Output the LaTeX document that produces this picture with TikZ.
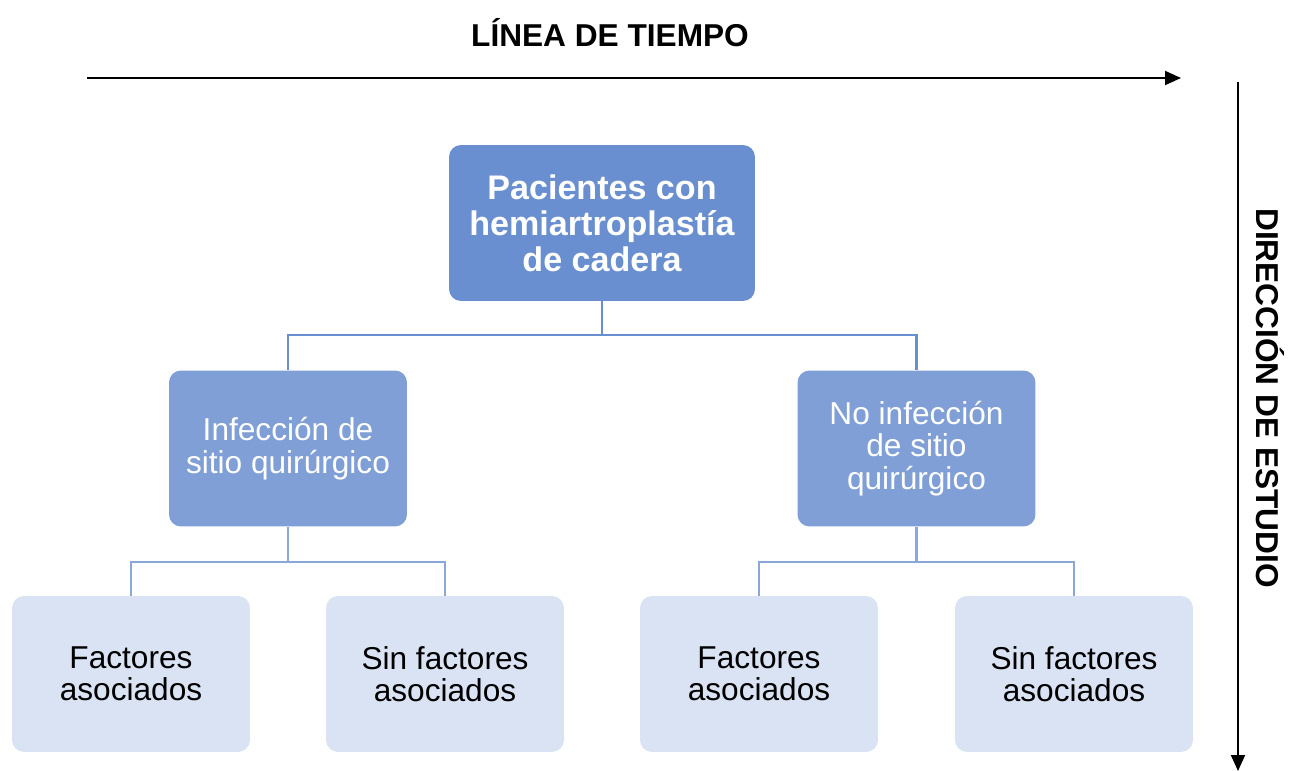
\documentclass[tikz,border=0pt]{standalone}
\usepackage{fontspec}
\setmainfont{Liberation Sans}
\usetikzlibrary{arrows.meta}
\definecolor{topblue}{HTML}{6A8FD0}
\definecolor{midblue}{HTML}{7F9FD6}
\definecolor{lowblue}{HTML}{DAE3F3}
\definecolor{linkblue}{HTML}{8AA7DA}
\tikzset{
  box/.style={rectangle, rounded corners=0.24cm, minimum width=4.76cm, minimum height=3.12cm, align=center, inner sep=2pt},
  topbox/.style={box, fill=topblue, text=white, minimum width=6.12cm, font=\bfseries\fontsize{19.4}{20.5}\selectfont},
  midbox/.style={box, fill=midblue, text=white, font=\fontsize{18}{18.7}\selectfont},
  lowbox/.style={box, fill=lowblue, text=black, font=\fontsize{18}{18.2}\selectfont},
  link/.style={draw=linkblue, line width=1.3pt},
  axis/.style={line width=1.1pt, -{Triangle[length=0.32cm,width=0.28cm]}},
  axislabel/.style={font=\bfseries\fontsize{18}{20}\selectfont}
}
\begin{document}
\begin{tikzpicture}[x=0.02cm, y=-0.02cm]
    \useasboundingbox (0,0) rectangle (1292,771);
    % Axes
    \node[axislabel] (timelabel) at (610,33) {LÍNEA DE TIEMPO};
    \coordinate (timestart) at (87,78);
    \coordinate (timeend) at (1181,78);
    \draw[axis] (timestart) -- (timeend);
    \node[axislabel, rotate=-90] (studylabel) at (1270,398) {DIRECCIÓN DE ESTUDIO};
    \coordinate (studystart) at (1238,82);
    \coordinate (studyend) at (1238,771);
    \draw[axis] (studystart) -- (studyend);

    % Nodes
    \node[topbox] (patients) at (602,223) {Pacientes con\\hemiartroplastía\\de cadera};
    \node[midbox] (ssi) at (288,448.5) {Infección de\\sitio quirúrgico};
    \node[midbox] (nossi) at (916.5,448.5) {No infección\\de sitio\\quirúrgico};
    \node[lowbox] (ssifact) at (131,674) {Factores\\asociados};
    \node[lowbox] (ssinofact) at (445,674) {Sin factores\\asociados};
    \node[lowbox] (nossifact) at (759,674) {Factores\\asociados};
    \node[lowbox] (nossinofact) at (1074,674) {Sin factores\\asociados};

    % Links
    \draw[link, draw=topblue] (patients.south) -- ++(0,34) -| (ssi.north);
    \draw[link, draw=topblue] (patients.south) -- ++(0,34) -| (nossi.north);
    \draw[link] (ssi.south) -- ++(0,35) -| (ssifact.north);
    \draw[link] (ssi.south) -- ++(0,35) -| (ssinofact.north);
    \draw[link] (nossi.south) -- ++(0,35) -| (nossifact.north);
    \draw[link] (nossi.south) -- ++(0,35) -| (nossinofact.north);
\end{tikzpicture}
\end{document}
